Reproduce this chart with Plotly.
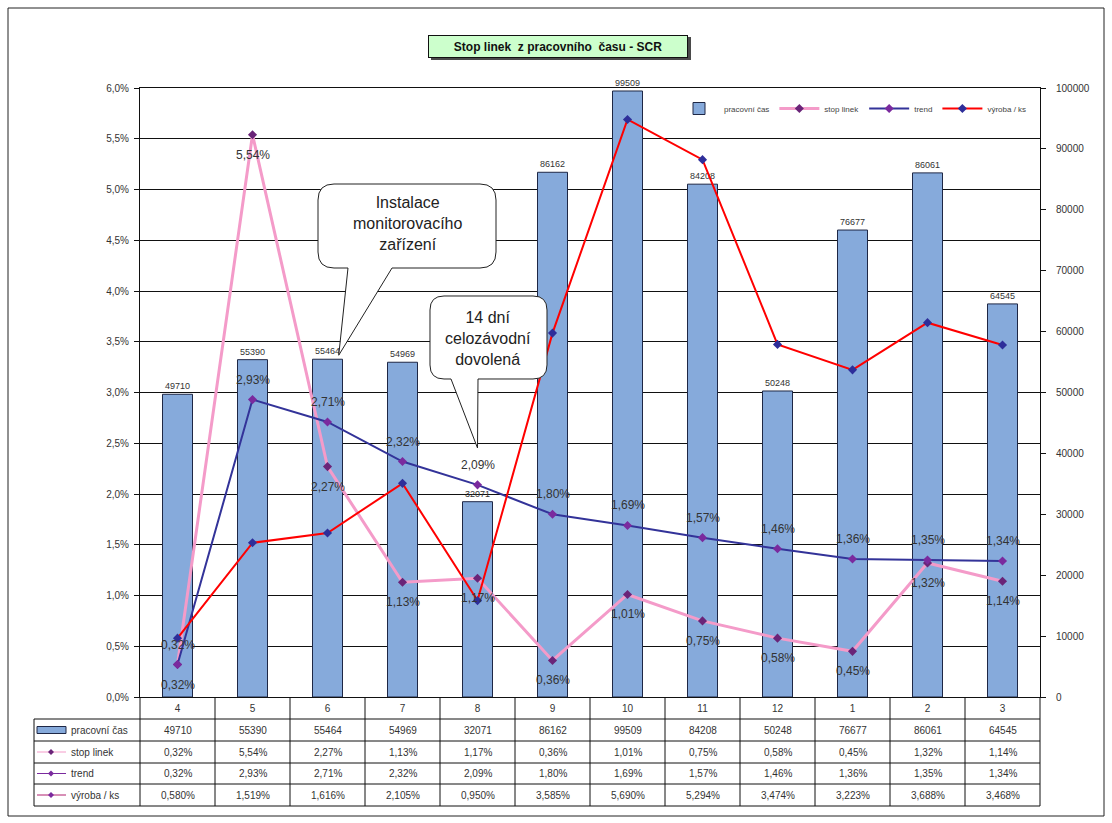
import plotly.graph_objects as go

# ---- data -------------------------------------------------------------
mesice = ["4", "5", "6", "7", "8", "9", "10", "11", "12", "1", "2", "3"]
pracovni_cas = [49710, 55390, 55464, 54969, 32071, 86162, 99509, 84208, 50248, 76677, 86061, 64545]
stop_linek = [0.32, 5.54, 2.27, 1.13, 1.17, 0.36, 1.01, 0.75, 0.58, 0.45, 1.32, 1.14]
trend = [0.32, 2.93, 2.71, 2.32, 2.09, 1.80, 1.69, 1.57, 1.46, 1.36, 1.35, 1.34]
vyroba_ks = [0.580, 1.519, 1.616, 2.105, 0.950, 3.585, 5.690, 5.294, 3.474, 3.223, 3.688, 3.468]

# ---- page geometry (pixels) -------------------------------------------
W, H = 1112, 823
PL, PR, PT, PB = 140, 1040, 88, 697
N = len(mesice)
PCT_MAX = 6.0
CAS_MAX = 100000

FONT = "Liberation Sans, Arial, sans-serif"
TXT = "#333333"
BAR_FILL = "#86AADB"
BAR_LINE = "#1E2745"
PINK = "#F49BC9"
NAVY = "#333399"
RED = "#FF0000"


def fx(px):
    return (px - PL) / (PR - PL)


def fy(py):
    return (PB - py) / (PB - PT)


def cz(value, decimals):
    return f"{value:.{decimals}f}".replace(".", ",")


fig = go.Figure()

# bars on the right-hand axis (primary y so that the lines are drawn above them)
fig.add_trace(go.Bar(
    x=mesice, y=pracovni_cas, name="pracovní čas",
    marker=dict(color=BAR_FILL, line=dict(color=BAR_LINE, width=1)),
    width=0.4,
    text=[str(v) for v in pracovni_cas], textposition="outside",
    outsidetextfont=dict(family=FONT, size=9, color=TXT),
    cliponaxis=False, yaxis="y",
))

fig.add_trace(go.Scatter(
    x=mesice, y=stop_linek, name="stop linek", mode="lines+markers",
    line=dict(color=PINK, width=3),
    marker=dict(symbol="diamond", size=7, color="#6A2478"),
    cliponaxis=False, yaxis="y2",
))

fig.add_trace(go.Scatter(
    x=mesice, y=trend, name="trend", mode="lines+markers",
    line=dict(color=NAVY, width=2),
    marker=dict(symbol="diamond", size=7, color="#7A2A9E"),
    cliponaxis=False, yaxis="y2",
))

fig.add_trace(go.Scatter(
    x=mesice, y=vyroba_ks, name="výroba / ks", mode="lines+markers",
    line=dict(color=RED, width=2),
    marker=dict(symbol="diamond", size=7, color="#2E2E9A"),
    yaxis="y2",
))

shapes = []
annotations = []

# percentage labels: stop linek below its points, trend above
# (category position given by index so numeric-looking month names are not misread)
for i, v in enumerate(stop_linek):
    annotations.append(dict(x=i, y=v, xref="x", yref="y2", text=cz(v, 2) + "%",
                            showarrow=False, yshift=-20,
                            font=dict(family=FONT, size=12, color=TXT)))
for i, v in enumerate(trend):
    annotations.append(dict(x=i, y=v, xref="x", yref="y2", text=cz(v, 2) + "%",
                            showarrow=False, yshift=20,
                            font=dict(family=FONT, size=12, color=TXT)))

# chart border
shapes.append(dict(type="rect", xref="paper", yref="paper",
                   x0=fx(8), x1=fx(1104), y0=fy(8), y1=fy(816),
                   line=dict(color="#222222", width=1), layer="below"))

# title box with shadow
shapes.append(dict(type="rect", xref="paper", yref="paper",
                   x0=fx(431), x1=fx(691), y0=fy(37), y1=fy(60),
                   fillcolor="#4A4A4A", line=dict(width=0), layer="above"))
annotations.append(dict(
    xref="paper", yref="paper", x=fx(558), y=fy(46), showarrow=False,
    text="<b>Stop linek&nbsp; z pracovního&nbsp; času - SCR</b>",
    font=dict(family=FONT, size=12, color="#111111"),
    bgcolor="#CCFFCC", bordercolor="#111111", borderwidth=1, borderpad=2,
    width=254, height=17, xanchor="center", yanchor="middle",
))


# speech-bubble callouts
def bubble(left, top, right, bottom, r, tail_l, tail_r, tip):
    def P(x, y):
        return f"{fx(x):.5f},{fy(y):.5f}"
    path = "M " + P(left + r, top)
    path += " L " + P(right - r, top)
    path += " Q " + P(right, top) + " " + P(right, top + r)
    path += " L " + P(right, bottom - r)
    path += " Q " + P(right, bottom) + " " + P(right - r, bottom)
    path += " L " + P(tail_r, bottom)
    path += " L " + P(tip[0], tip[1])
    path += " L " + P(tail_l, bottom)
    path += " L " + P(left + r, bottom)
    path += " Q " + P(left, bottom) + " " + P(left, bottom - r)
    path += " L " + P(left, top + r)
    path += " Q " + P(left, top) + " " + P(left + r, top) + " Z"
    return dict(type="path", xref="paper", yref="paper", path=path,
                fillcolor="white", line=dict(color="#222222", width=1), layer="above")


def cat_px(i, offset=0.0):
    return PL + (i + 0.5 + offset) * (PR - PL) / N


def cas_py(v):
    return PB - v / CAS_MAX * (PB - PT)


i6 = mesice.index("6")
tip1 = (cat_px(i6, 0.15), cas_py(pracovni_cas[i6]) - 4)
shapes.append(bubble(318, 184, 496, 268, 16, 348, 392, tip1))
annotations.append(dict(xref="paper", yref="paper", x=fx(407), y=fy(224),
                        text="Instalace<br>monitorovacího<br>zařízení", showarrow=False,
                        font=dict(family=FONT, size=16, color="#222222"),
                        xanchor="center", yanchor="middle"))

i8 = mesice.index("8")
tip2 = (cat_px(i8), 448)
shapes.append(bubble(430, 296, 547, 379, 14, 451, 478, tip2))
annotations.append(dict(xref="paper", yref="paper", x=fx(488), y=fy(338),
                        text="14 dní<br>celozávodní<br>dovolená", showarrow=False,
                        font=dict(family=FONT, size=16, color="#222222"),
                        xanchor="center", yanchor="middle"))

# ---- data table under the plot ----------------------------------------
row_y = [697, 719, 741, 763, 784, 806]
TL = 34
for k in range(N + 1):
    xk = PL + k * (PR - PL) / N
    shapes.append(dict(type="line", xref="paper", yref="paper",
                       x0=fx(xk), x1=fx(xk), y0=fy(row_y[0]), y1=fy(row_y[-1]),
                       line=dict(color="#111111", width=1)))
for j, yv in enumerate(row_y[1:]):
    shapes.append(dict(type="line", xref="paper", yref="paper",
                       x0=fx(TL), x1=fx(PR), y0=fy(yv), y1=fy(yv),
                       line=dict(color="#111111", width=1)))
shapes.append(dict(type="line", xref="paper", yref="paper",
                   x0=fx(TL), x1=fx(TL), y0=fy(row_y[1]), y1=fy(row_y[-1]),
                   line=dict(color="#111111", width=1)))

rows = [
    ("pracovní čas", [str(v) for v in pracovni_cas], "bar", None, None),
    ("stop linek", [cz(v, 2) + "%" for v in stop_linek], "line", PINK, "#6A2478"),
    ("trend", [cz(v, 2) + "%" for v in trend], "line", "#7A2A9E", "#7A2A9E"),
    ("výroba / ks", [cz(v, 3) + "%" for v in vyroba_ks], "line", "#B0206E", "#7A2A9E"),
]

for r, (label, vals, kind, lc, mc) in enumerate(rows):
    top, bot = row_y[r + 1], row_y[r + 2]
    cy = (top + bot) / 2
    if kind == "bar":
        shapes.append(dict(type="rect", xref="paper", yref="paper",
                           x0=fx(37), x1=fx(66), y0=fy(cy - 3.5), y1=fy(cy + 3.5),
                           fillcolor=BAR_FILL, line=dict(color=BAR_LINE, width=1)))
    else:
        shapes.append(dict(type="line", xref="paper", yref="paper",
                           x0=fx(37), x1=fx(66), y0=fy(cy), y1=fy(cy),
                           line=dict(color=lc, width=1)))
        d = 3
        shapes.append(dict(type="path", xref="paper", yref="paper",
                           path=(f"M {fx(51 - d):.5f},{fy(cy):.5f} L {fx(51):.5f},{fy(cy - d):.5f} "
                                 f"L {fx(51 + d):.5f},{fy(cy):.5f} L {fx(51):.5f},{fy(cy + d):.5f} Z"),
                           fillcolor=mc, line=dict(color=mc, width=0)))
    annotations.append(dict(xref="paper", yref="paper", x=fx(69), y=fy(cy),
                            text=label, showarrow=False, xanchor="left", yanchor="middle",
                            font=dict(family=FONT, size=10, color=TXT)))
    for i, v in enumerate(vals):
        annotations.append(dict(xref="paper", yref="paper", x=fx(cat_px(i)), y=fy(cy),
                                text=v, showarrow=False, xanchor="center", yanchor="middle",
                                font=dict(family=FONT, size=10, color=TXT)))

fig.update_layout(
    width=W, height=H, autosize=False,
    margin=dict(l=PL, r=W - PR, t=PT, b=H - PB, pad=0),
    paper_bgcolor="white", plot_bgcolor="white",
    separators=", ",
    font=dict(family=FONT, size=9, color=TXT),
    bargap=0.6,
    showlegend=True,
    legend=dict(orientation="h", x=fx(1032), xanchor="right", y=fy(94), yanchor="top",
                font=dict(family=FONT, size=8, color="#444444"),
                bgcolor="rgba(255,255,255,0)", itemwidth=40, tracegroupgap=0),
    xaxis=dict(type="category", showgrid=False, showline=True, linecolor="#111111",
               linewidth=1, mirror=True, ticks="", tickfont=dict(family=FONT, size=10, color=TXT),
               ticklabelstandoff=2, range=[-0.5, N - 0.5]),
    yaxis=dict(side="right", range=[0, CAS_MAX], dtick=10000, tickformat="d",
               showgrid=False, showline=True, linecolor="#111111", linewidth=1,
               ticks="outside", ticklen=5, tickcolor="#111111",
               tickfont=dict(family=FONT, size=10, color=TXT), ticklabelstandoff=8, zeroline=False),
    yaxis2=dict(side="left", overlaying="y", range=[0, PCT_MAX], dtick=0.5,
                tickformat=".1f", ticksuffix="%",
                showgrid=True, gridcolor="#111111", gridwidth=1,
                showline=True, linecolor="#111111", linewidth=1,
                ticks="outside", ticklen=5, tickcolor="#111111",
                tickfont=dict(family=FONT, size=10, color=TXT), ticklabelstandoff=3, zeroline=False),
    shapes=shapes,
    annotations=annotations,
)

fig.write_html("out.html")
